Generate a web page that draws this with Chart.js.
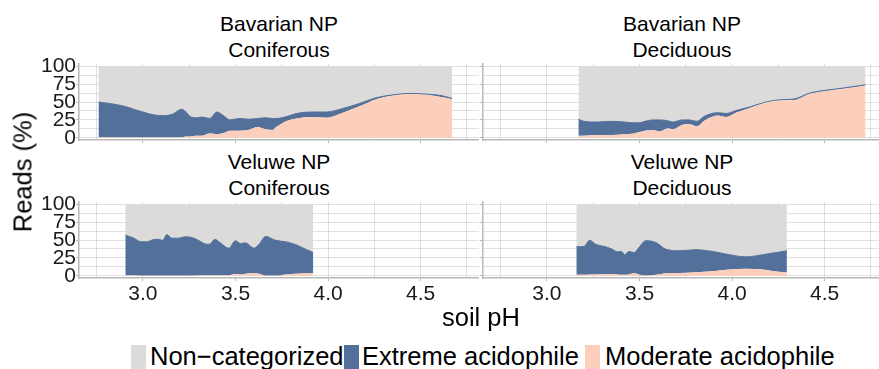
<!DOCTYPE html>
<html>
<head>
<meta charset="utf-8">
<script src="https://cdn.jsdelivr.net/npm/chart.js@4.4.1/dist/chart.umd.min.js"></script>
<style>
  body { margin: 0; background: #fff; }
  #wrap { position: relative; width: 879px; height: 369px; overflow: hidden; background: #fff;
          font-family: "Liberation Sans", Arial, sans-serif; color: #000; }
  canvas { position: absolute; }
  .strip { position: absolute; width: 300px; margin-left: -150px; text-align: center;
           font-size: 21px; line-height: 26px; white-space: nowrap; }
  .axis-title { position: absolute; font-size: 25.5px; line-height: 25px; white-space: nowrap; }
  .leg-box { position: absolute; top: 345px; width: 15px; height: 26px; }
  .leg-text { position: absolute; top: 344px; font-size: 25.5px; line-height: 25px; white-space: nowrap; }
</style>
</head>
<body>
<div id="wrap">
  <div class="strip" style="left:279px; top:11px;">Bavarian NP<br>Coniferous</div>
  <div class="strip" style="left:682px; top:11px;">Bavarian NP<br>Deciduous</div>
  <div class="strip" style="left:279px; top:149px;">Veluwe NP<br>Coniferous</div>
  <div class="strip" style="left:682px; top:149px;">Veluwe NP<br>Deciduous</div>

  <canvas id="bavCon" width="479" height="94" style="left:0; top:50px;"></canvas>
  <canvas id="bavDec" width="404" height="94" style="left:479px; top:50px;"></canvas>
  <canvas id="velCon" width="479" height="121" style="left:0; top:188px;"></canvas>
  <canvas id="velDec" width="404" height="121" style="left:479px; top:188px;"></canvas>

  <div class="axis-title" style="left:23px; top:172px; transform: translate(-50%, -50%) rotate(-90deg);">Reads (%)</div>
  <div class="axis-title" style="left:481px; top:305px; transform: translateX(-50%);">soil pH</div>

  <div class="leg-box" style="left:131px; background:#dcdbda;"></div>
  <div class="leg-text" style="left:150px;">Non−categorized</div>
  <div class="leg-box" style="left:344px; background:#52709a;"></div>
  <div class="leg-text" style="left:362px;">Extreme acidophile</div>
  <div class="leg-box" style="left:585px; background:#fccfbc;"></div>
  <div class="leg-text" style="left:605px;">Moderate acidophile</div>
</div>

<script>
// Bavarian NP, coniferous
const bavConPH       = [2.76, 2.82, 2.90, 2.95, 3.00, 3.06, 3.11, 3.16, 3.21, 3.24, 3.26, 3.29, 3.32, 3.36, 3.40, 3.44, 3.47, 3.52, 3.57, 3.62, 3.66, 3.70, 3.72, 3.75, 3.78, 3.83, 3.90, 3.99, 4.08, 4.17, 4.26, 4.35, 4.44, 4.53, 4.61, 4.67];
const bavConModerate = [1, 1, 1, 1, 1, 1, 1, 1, 1, 2, 2, 3, 3, 6, 5, 7, 10, 10, 11, 15, 12, 11, 15, 20, 24, 27, 29, 28, 35, 44, 54, 59, 61, 60, 57, 54];
const bavConExtreme  = [49, 47, 43, 39, 35, 31, 30, 32, 39, 32, 27, 25, 26, 21, 31, 23, 15, 17, 15, 12, 16, 16, 12, 8, 6, 7, 7, 8, 6, 4, 2, 1, 1, 1, 2, 1];
const bavConNoncat   = [50, 52, 56, 60, 64, 68, 69, 67, 60, 66, 71, 72, 71, 73, 64, 70, 75, 73, 74, 73, 72, 73, 73, 72, 70, 66, 64, 64, 59, 52, 44, 40, 38, 39, 41, 45];

// Bavarian NP, deciduous
const bavDecPH       = [3.17, 3.20, 3.27, 3.35, 3.42, 3.47, 3.50, 3.53, 3.57, 3.61, 3.65, 3.68, 3.73, 3.77, 3.81, 3.85, 3.89, 3.92, 3.97, 4.02, 4.10, 4.19, 4.28, 4.33, 4.42, 4.51, 4.60, 4.72];
const bavDecModerate = [3, 3, 4, 4, 5, 6, 8, 10, 11, 9, 13, 12, 18, 19, 16, 24, 29, 31, 29, 35, 42, 49.5, 52.5, 52.5, 61.5, 65.5, 68.5, 73];
const bavDecExtreme  = [23, 20, 18, 19, 17, 15, 13, 13, 14, 16, 11, 10, 7, 6, 7, 6, 5, 4, 5, 3, 1.5, 1, 1, 1.5, 1, 1, 1, 1];
const bavDecNoncat   = [74, 77, 78, 77, 78, 79, 79, 77, 75, 75, 76, 78, 75, 75, 77, 70, 66, 65, 66, 62, 56.5, 49.5, 46.5, 46, 37.5, 33.5, 30.5, 26];

// Veluwe NP, coniferous
const velConPH       = [2.905, 2.947, 2.992, 3.02, 3.056, 3.083, 3.107, 3.129, 3.156, 3.192, 3.228, 3.264, 3.30, 3.346, 3.364, 3.388, 3.418, 3.464, 3.50, 3.527, 3.554, 3.60, 3.627, 3.663, 3.717, 3.772, 3.826, 3.88, 3.92];
const velConModerate = [1, 1, 0.5, 0.5, 0.5, 0.5, 0.5, 0.5, 0.5, 0.5, 0.5, 0.5, 1, 1, 1, 1, 1, 1, 2.5, 2, 3, 4, 3, 0.5, 0.5, 2, 3, 3.5, 4];
const velConExtreme  = [56, 52, 47, 47, 50, 50.5, 49, 57, 52, 52, 54, 53, 48.5, 43, 43.5, 50, 45, 37.5, 46.5, 43, 43, 34.5, 41, 54.5, 49, 45.5, 40.5, 33.5, 28.5];
const velConNoncat   = [43, 47, 52.5, 52.5, 49.5, 49, 50.5, 42.5, 47.5, 47.5, 45.5, 46.5, 50.5, 56, 55.5, 49, 54, 61.5, 51, 55, 54, 61.5, 56, 45, 50.5, 52.5, 56.5, 63, 67.5];

// Veluwe NP, deciduous
const velDecPH       = [3.159, 3.20, 3.231, 3.264, 3.318, 3.354, 3.381, 3.40, 3.423, 3.441, 3.472, 3.50, 3.534, 3.589, 3.643, 3.715, 3.805, 3.895, 3.985, 4.076, 4.166, 4.238, 4.296];
const velDecModerate = [1.5, 1.5, 2, 2, 2.5, 2.5, 2, 1.5, 1.5, 2, 3.5, 1.5, 0.5, 1.5, 3.5, 4, 5, 6.5, 9, 10, 9, 6, 4.5];
const velDecExtreme  = [39, 39.5, 47.5, 42, 38, 34.5, 31.5, 32.5, 28, 32, 29, 39, 48.5, 45, 33.5, 31, 31.5, 27.5, 20.5, 16.5, 20.5, 26.5, 30.5];
const velDecNoncat   = [59.5, 59, 50.5, 56, 59.5, 63, 66.5, 66, 70.5, 66, 67.5, 59.5, 51, 53.5, 63, 65, 63.5, 66, 70.5, 73.5, 70.5, 67.5, 65];

const xTicks = [3.0, 3.5, 4.0, 4.5];
const yTicks = [0, 25, 50, 75, 100];

const colors = { moderate: '#fccfbc', extreme: '#52709a', noncat: '#dcdbda' };
const gridColor = 'rgba(165,165,165,0.35)';
const axisColor = '#b8b8b8';

function isXMajor(v) { return xTicks.some(t => Math.abs(t - v) < 1e-6); }
function isYMajor(v) { return yTicks.some(t => Math.abs(t - v) < 1e-6); }

function makePanel(id, ph, moderate, extreme, noncat, showX, showY) {
  const pts = arr => ph.map((x, i) => ({ x: x, y: arr[i] }));
  new Chart(document.getElementById(id), {
    type: 'line',
    data: {
      datasets: [
        { label: 'Moderate acidophile', data: pts(moderate), backgroundColor: colors.moderate,
          borderColor: 'transparent', borderWidth: 0, fill: 'origin' },
        { label: 'Extreme acidophile', data: pts(extreme), backgroundColor: colors.extreme,
          borderColor: colors.extreme, borderWidth: 1, fill: '-1' },
        { label: 'Non-categorized', data: pts(noncat), backgroundColor: colors.noncat,
          borderColor: 'transparent', borderWidth: 0, fill: '-1' }
      ]
    },
    options: {
      responsive: false,
      animation: false,
      events: [],
      layout: { padding: { top: 14 } },
      elements: {
        point: { radius: 0 },
        line: { cubicInterpolationMode: 'monotone' }
      },
      plugins: { legend: { display: false }, tooltip: { enabled: false } },
      scales: {
        x: {
          type: 'linear', min: 2.655, max: 4.815, z: 1,
          ticks: {
            display: showX, stepSize: 0.25, includeBounds: false, autoSkip: false, maxRotation: 0,
            padding: 1, color: '#1a1a1a', font: { family: 'Liberation Sans', size: 21 },
            callback: v => isXMajor(v) ? v.toFixed(1) : ''
          },
          grid: { color: gridColor, tickLength: 3, tickColor: c => isXMajor(c.tick.value) ? axisColor : 'transparent' },
          border: { color: axisColor, width: 1.5 },
          afterFit: s => { s.height = showX ? 31 : 4; s.paddingLeft = 0; s.paddingRight = 0; }
        },
        y: {
          stacked: true, min: -3, max: 103, z: 1,
          ticks: {
            display: showY, stepSize: 12.5, includeBounds: false, autoSkip: false,
            padding: 0, color: '#1a1a1a', font: { family: 'Liberation Sans', size: 21 },
            callback: v => isYMajor(v) ? String(v) : ''
          },
          grid: { color: gridColor, tickLength: 3, tickColor: c => isYMajor(c.tick.value) ? axisColor : 'transparent' },
          border: { color: axisColor, width: 1.5 },
          afterFit: s => { s.width = showY ? 79 : 4; s.paddingTop = 0; s.paddingBottom = 0; }
        }
      }
    }
  });
}

makePanel('bavCon', bavConPH, bavConModerate, bavConExtreme, bavConNoncat, false, true);
makePanel('bavDec', bavDecPH, bavDecModerate, bavDecExtreme, bavDecNoncat, false, false);
makePanel('velCon', velConPH, velConModerate, velConExtreme, velConNoncat, true, true);
makePanel('velDec', velDecPH, velDecModerate, velDecExtreme, velDecNoncat, true, false);
</script>
</body>
</html>
